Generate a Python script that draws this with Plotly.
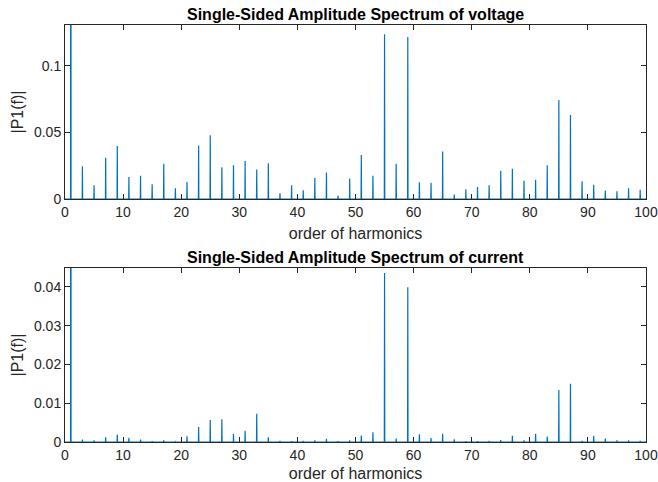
import plotly.graph_objects as go
from plotly.subplots import make_subplots

harmonics = list(range(1, 100, 2))

voltage = [1.0, 0.0246, 0.0103, 0.0311, 0.0398, 0.0165, 0.0175, 0.0110, 0.0266, 0.0080,
           0.0128, 0.0403, 0.0479, 0.0238, 0.0253, 0.0286, 0.0221, 0.0268, 0.0043, 0.0103,
           0.0065, 0.0158, 0.0200, 0.0025, 0.0155, 0.0331, 0.0175, 0.1238, 0.0266, 0.1218,
           0.0125, 0.0123, 0.0358, 0.0033, 0.0073, 0.0090, 0.0103, 0.0213, 0.0228, 0.0138,
           0.0145, 0.0253, 0.0744, 0.0632, 0.0133, 0.0108, 0.0063, 0.0058, 0.0080, 0.0070]

current = [1.0, 0.0006, 0.0004, 0.0012, 0.0019, 0.0011, 0.0006, 0.0002, 0.0004, 0.0001,
           0.0015, 0.0039, 0.0057, 0.0059, 0.0021, 0.0029, 0.0073, 0.0012, 0.0003, 0.0002,
           0.0003, 0.0004, 0.0008, 0.0002, 0.0004, 0.0017, 0.0025, 0.0436, 0.0009, 0.0399,
           0.0020, 0.0010, 0.0021, 0.0007, 0.0002, 0.0002, 0.0003, 0.0005, 0.0016, 0.0004,
           0.0021, 0.0014, 0.0134, 0.0150, 0.0003, 0.0016, 0.0009, 0.0004, 0.0004, 0.0003]

x_ticks = list(range(0, 101, 10))
v_ticks = [0, 0.05, 0.1]
v_tick_labels = ["0", "0.05", "0.1"]
c_ticks = [0, 0.01, 0.02, 0.03, 0.04]
c_tick_labels = ["0", "0.01", "0.02", "0.03", "0.04"]

titles = ["Single-Sided Amplitude Spectrum of voltage",
          "Single-Sided Amplitude Spectrum of current"]


def spike_line(hs, vals, d=0.04):
    xs, ys = [0], [0]
    for h, v in zip(hs, vals):
        xs += [h - d, h, h + d]
        ys += [0, v, 0]
    xs.append(100)
    ys.append(0)
    return xs, ys


fig = make_subplots(rows=2, cols=1, vertical_spacing=0.1654)
line_color = "#0072BD"
axis_color = "#262626"
font_fam = "Liberation Sans, Arial, sans-serif"

for i, vals in enumerate([voltage, current]):
    xs, ys = spike_line(harmonics, vals)
    fig.add_trace(go.Scatter(x=xs, y=ys, mode="lines",
                             line=dict(color=line_color, width=1.2),
                             showlegend=False, hoverinfo="skip"),
                  row=i + 1, col=1)

axis_common = dict(showline=True, linecolor=axis_color, linewidth=1, mirror="ticks",
                   ticks="inside", ticklen=5, tickcolor=axis_color, showgrid=False,
                   zeroline=False, automargin=False,
                   tickfont=dict(family=font_fam, size=14, color=axis_color))

for r in (1, 2):
    fig.update_xaxes(range=[0, 100], tickvals=x_ticks, row=r, col=1,
                     title=dict(text="order of harmonics", standoff=8,
                                font=dict(family=font_fam, size=16, color=axis_color)),
                     **axis_common)

fig.update_yaxes(range=[0, 0.1308], tickvals=v_ticks, ticktext=v_tick_labels, row=1, col=1,
                 title=dict(text="|P1(f)|", standoff=6,
                            font=dict(family=font_fam, size=16, color=axis_color)),
                 **axis_common)
fig.update_yaxes(range=[0, 0.0449], tickvals=c_ticks, ticktext=c_tick_labels, row=2, col=1,
                 title=dict(text="|P1(f)|", standoff=6,
                            font=dict(family=font_fam, size=16, color=axis_color)),
                 **axis_common)

fig.update_layout(
    width=658, height=482,
    margin=dict(l=65, r=12, t=25, b=40),
    paper_bgcolor="white", plot_bgcolor="white",
    annotations=[
        dict(text="<b>" + titles[0] + "</b>", xref="paper", yref="paper", x=0.5, y=1.0,
             yanchor="bottom", xanchor="center", showarrow=False, yshift=0,
             font=dict(family=font_fam, size=16, color="black")),
        dict(text="<b>" + titles[1] + "</b>", xref="paper", yref="paper", x=0.5, y=0.4173,
             yanchor="bottom", xanchor="center", showarrow=False, yshift=0,
             font=dict(family=font_fam, size=16, color="black")),
    ],
)

fig.write_html("out.html", config={"displayModeBar": False},
               post_script="document.body.style.margin='0';")
